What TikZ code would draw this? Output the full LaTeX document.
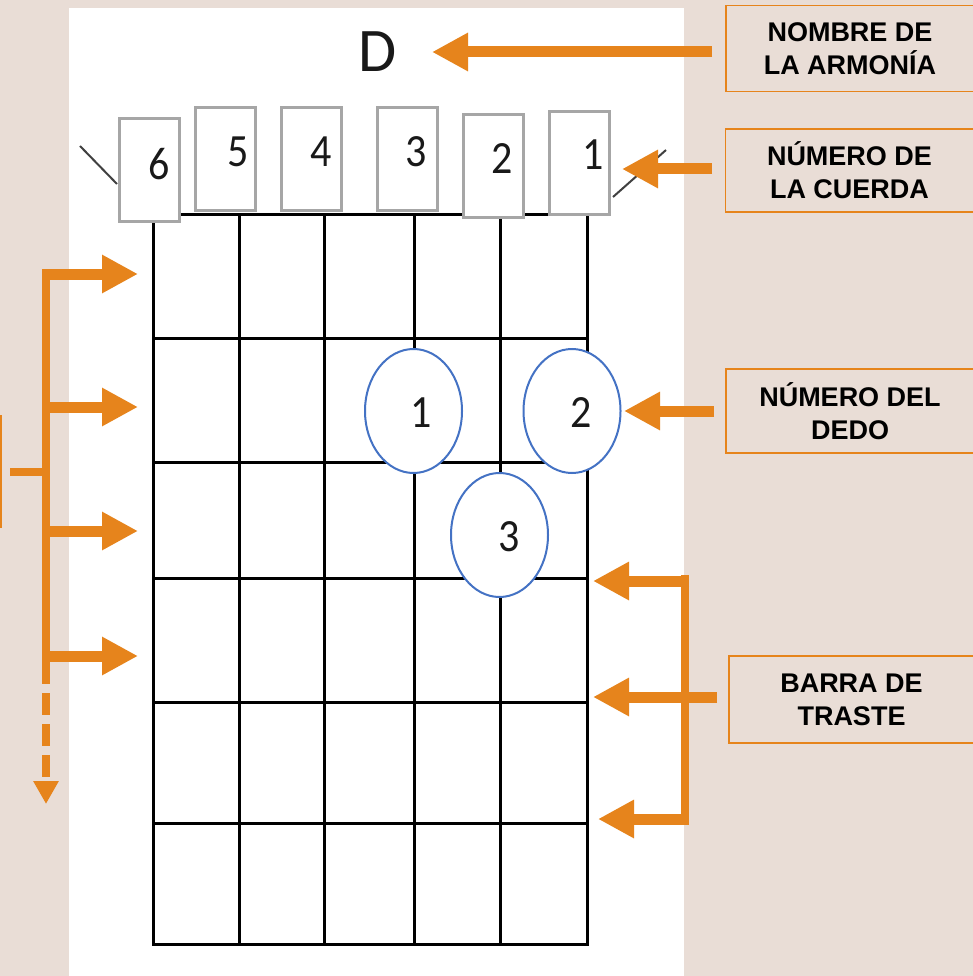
\documentclass[tikz,border=0pt]{standalone}
\usepackage{fontspec}
\usepackage{graphicx}
\setmainfont{Liberation Sans}
\newfontfamily\calib{Carlito}
\usetikzlibrary{arrows.meta,shapes.geometric}
\definecolor{bg}{HTML}{E9DDD6}
\definecolor{orng}{HTML}{E6841C}
\definecolor{boxgray}{HTML}{A6A6A6}
\definecolor{circblue}{HTML}{4472C4}
\begin{document}
\begin{tikzpicture}[x=1pt,y=-1pt,
  labelbox/.style={draw=orng, line width=1.5pt, minimum width=248pt, minimum height=86pt, inner sep=0pt,
    font=\fontsize{27}{33}\selectfont\bfseries, align=center, text=black},
  strbox/.style={draw=boxgray, line width=3pt, fill=white, minimum width=60pt, minimum height=103pt, inner sep=0pt},
  digit/.style={font=\calib\fontsize{42}{42}\selectfont, inner sep=0pt, text=black!90},
  finger/.style={ellipse, draw=circblue, line width=2pt, fill=white, minimum width=97pt, minimum height=124pt, inner sep=0pt},
  gridline/.style={black, line width=3pt, line cap=rect},
  oarr/.style={orng, line width=11pt, -{Triangle[length=36pt,width=36pt]}},
  obar/.style={orng, line width=8pt},
  diag/.style={black!75, line width=2pt}
]
\useasboundingbox (0,0) rectangle (973,976);
\clip (0,0) rectangle (973,976);
\fill[bg] (0,0) rectangle (973,976);
\fill[white] (69,8) rectangle (684,976);

% chord name
\node[font=\calib\fontsize{62}{62}\selectfont, inner sep=0pt, text=black!90] (chord) at (378,52) {D};

% grid
\foreach \x in {153,239,324,414,500,587} \draw[gridline] (\x,215) -- (\x,944);
\foreach \y in {215,338,462,578,702,823,944} \draw[gridline] (153,\y) -- (587,\y);

% diagonal string ends
\coordinate (dl1) at (80,146);
\coordinate (dl2) at (117,184);
\coordinate (dr1) at (613,197);
\coordinate (dr2) at (666,150);
\draw[diag] (dl1) -- (dl2);
\draw[diag] (dr1) -- (dr2);

% string boxes
\node[strbox] (s6) at (149.5,170) {};
\node[strbox] (s5) at (225.5,159) {};
\node[strbox] (s4) at (311.5,159) {};
\node[strbox] (s3) at (407.5,159) {};
\node[strbox] (s2) at (493.5,166) {};
\node[strbox] (s1) at (579.5,163.5) {};
\node[digit] (t6) at (159,164) {\scalebox{1}[1.1]{6}};
\node[digit] (t5) at (238,152) {\scalebox{1}[1.1]{5}};
\node[digit] (t4) at (321,152) {\scalebox{1}[1.1]{4}};
\node[digit] (t3) at (416,152) {\scalebox{1}[1.1]{3}};
\node[digit] (t2) at (502,159) {\scalebox{1}[1.1]{2}};
\node[digit] (t1) at (593,155) {\scalebox{1}[1.1]{1}};

% finger circles
\node[finger] (f1) at (413.5,411) {};
\node[finger] (f2) at (572,411) {};
\node[finger] (f3) at (499.5,535) {};
\node[digit] (g1) at (421,413) {\scalebox{1}[1.1]{1}};
\node[digit] (g2) at (581,413) {\scalebox{1}[1.1]{2}};
\node[digit] (g3) at (509,537) {\scalebox{1}[1.1]{3}};

% label boxes
\node[labelbox] (lnombre) at (850,48.5) {NOMBRE DE\\LA ARMONÍA};
\node[labelbox, minimum height=83pt] (lcuerda) at (849.5,170.5) {NÚMERO DE\\LA CUERDA};
\node[labelbox, minimum height=84pt] (ldedo) at (850,411) {NÚMERO DEL\\DEDO};
\node[labelbox, minimum width=245pt, minimum height=87pt] (lbarra) at (851.5,699.5) {BARRA DE\\TRASTE};

% right arrows
\coordinate (aN) at (712,52);   \coordinate (aNt) at (432,52);
\coordinate (aC) at (712,169);  \coordinate (aCt) at (622,169);
\coordinate (aD) at (714,411);  \coordinate (aDt) at (624,411);
\draw[oarr] (aN) -- (aNt);
\draw[oarr] (aC) -- (aCt);
\draw[oarr] (aD) -- (aDt);

% fret bracket (right)
\coordinate (bT) at (685,575);
\coordinate (bB) at (685,825);
\draw[obar] (bT) -- (bB);
\coordinate (bt1) at (689,581); \coordinate (bt1t) at (593,581);
\coordinate (bt2) at (717,697); \coordinate (bt2t) at (593,697);
\coordinate (bt3) at (689,819); \coordinate (bt3t) at (598,819);
\draw[oarr] (bt1) -- (bt1t);
\draw[oarr] (bt2) -- (bt2t);
\draw[oarr] (bt3) -- (bt3t);

% left bracket
\draw[orng, line width=1.5pt] (-50,416) rectangle (1,527);
\coordinate (lT) at (46,270);
\coordinate (lB) at (46,662);
\coordinate (lE) at (46,804);
\draw[obar] (lT) -- (lB);
\draw[orng, line width=8pt, dash pattern=on 22pt off 9pt, -{Triangle[length=23pt,width=24pt]}] (lB) -- (lE);
\coordinate (lS) at (10,472);
\coordinate (lSe) at (46,472);
\draw[obar] (lS) -- (lSe);
\foreach \y in {274,407,531,656} {
  \draw[oarr] (42,\y) -- (138,\y);
}
\end{tikzpicture}
\end{document}
